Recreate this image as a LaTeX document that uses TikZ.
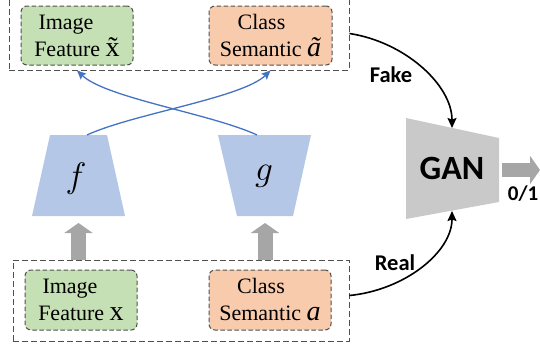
\documentclass[tikz,border=0pt]{standalone}
\usepackage{fontspec}
\setmainfont{Liberation Serif}
\newfontfamily\calib{Carlito}
\usetikzlibrary{arrows.meta,calc}
\definecolor{greenF}{HTML}{C5E0B4}
\definecolor{orangeF}{HTML}{F8CBAD}
\definecolor{blueF}{HTML}{B4C7E7}
\definecolor{blueL}{HTML}{4472C4}
\definecolor{grayA}{HTML}{A6A6A6}
\definecolor{ganF}{HTML}{C9C9C9}
\definecolor{dashC}{HTML}{505050}
\begin{document}
\begin{tikzpicture}[x=1pt,y=-1pt,
  inbox/.style={draw=dashC, line width=1pt, dash pattern=on 4.5pt off 2.5pt,
    rounded corners=6pt, minimum height=59pt, inner sep=0pt, align=center,
    font=\fontsize{22}{27}\selectfont},
  outbox/.style={draw=dashC, line width=0.9pt, dash pattern=on 6pt off 3pt,
    inner sep=0pt},
  bluearr/.style={draw=blueL, line width=1.3pt, -{Stealth[length=9pt,width=8pt,inset=1.5pt]}},
  blkarr/.style={draw=black, line width=1.6pt, -{Stealth[length=10pt,width=9pt,inset=1.5pt]}},
  fatarr/.style={draw=grayA, line width=15pt, -{Triangle[length=10pt,width=28pt]}},
  lab/.style={font=\calib\bfseries\fontsize{22.5}{22.5}\selectfont, inner sep=0pt},
  fn/.style={font=\fontsize{17.28}{18}\selectfont, inner sep=0pt, scale=2.05}
]
\useasboundingbox (0,0) rectangle (540,349);

% outer dashed boxes
\node[outbox, minimum width=340pt, minimum height=73pt] (topbox) at (179,33.5) {};
\node[outbox, minimum width=336pt, minimum height=81pt] (botbox) at (181,300.5) {};

% inner boxes
\node[inbox, fill=greenF, minimum width=112pt] (imgT) at (77,35.5)
  {Image\hspace*{22pt}\\Feature {\fontsize{28}{27}\selectfont x̃}};
\node[inbox, fill=orangeF, minimum width=123pt] (clsT) at (270.5,35.5)
  {Class\hspace*{18pt}\\Semantic {\fontsize{28}{27}\selectfont\itshape ã}};
\node[inbox, fill=greenF, minimum width=112pt, minimum height=60pt] (imgB) at (81,300)
  {Image\hspace*{22pt}\\Feature {\fontsize{28}{27}\selectfont x}};
\node[inbox, fill=orangeF, minimum width=122pt, minimum height=60pt] (clsB) at (270,300)
  {Class\hspace*{18pt}\\Semantic {\fontsize{28}{27}\selectfont\itshape a}};

% trapezoids f and g
\fill[blueF] (32,216) -- (125,216) -- (107,135) -- (50,135) -- cycle;
\fill[blueF] (218,135) -- (311,135) -- (293,216) -- (237,216) -- cycle;
\node[fn] (flab) at (76,179) {$f$};
\node[fn] (glab) at (264,176) {$g$};
\coordinate (ftop) at (87,135);
\coordinate (gtop) at (257,135);
\coordinate (fbot) at (78.5,216);
\coordinate (gbot) at (265,216);

% GAN
\fill[ganF] (406,118) -- (499,138) -- (499,202) -- (406,219) -- cycle;
\node[font=\calib\bfseries\fontsize{34}{34}\selectfont, inner sep=0pt] (gan) at (452,168) {GAN};
\coordinate (ganT) at (452,128);
\coordinate (ganB) at (452,211);
\coordinate (ganR) at (502,170);
\coordinate (outE) at (540,170);

% gray input arrows
\draw[fatarr, shorten >=7pt] (fbot |- botbox.north) -- (fbot);
\draw[fatarr, shorten >=7pt] (gbot |- botbox.north) -- (gbot);

% blue crossing arrows
\draw[bluearr] (ftop) .. controls (132,114) and (242,98) .. (clsT.south |- topbox.south);
\draw[bluearr] (gtop) .. controls (212,114) and (106,98) .. (imgT.south |- topbox.south);

% fake / real
\draw[blkarr] (topbox.east) .. controls (405,42) and (452,85) .. (ganT);
\draw[blkarr] ([yshift=5pt]botbox.east) .. controls (405,290) and (452,252) .. (ganB);
\node[lab] (fake) at (391,75) {Fake};
\node[lab] (real) at (395,263) {Real};

% output
\draw[draw=grayA, line width=14pt, -{Triangle[length=10pt,width=28pt]}] (ganR) -- (outE);
\node[lab, font=\calib\bfseries\fontsize{21}{21}\selectfont] (out) at (523,194) {0/1};
\end{tikzpicture}
\end{document}
